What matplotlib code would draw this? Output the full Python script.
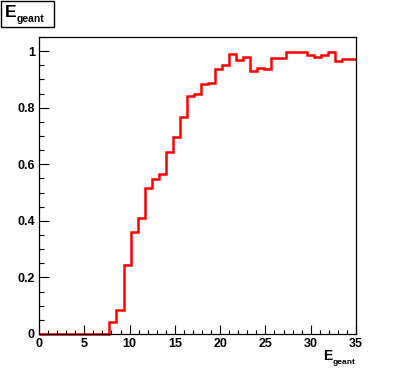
import matplotlib
matplotlib.use("Agg")
import matplotlib.pyplot as plt
import numpy as np
from matplotlib.patches import Rectangle
from matplotlib.ticker import MultipleLocator, FuncFormatter

# 45 bins between 0 and 35
x_min, x_max, n_bins = 0.0, 35.0, 45
efficiency = [
    0, 0, 0, 0, 0, 0, 0, 0, 0, 0,
    0.044, 0.084, 0.243, 0.359, 0.411, 0.516, 0.547, 0.566,
    0.642, 0.695, 0.768, 0.842, 0.847, 0.884, 0.887, 0.938,
    0.952, 0.991, 0.970, 0.980, 0.930, 0.940, 0.938, 0.977,
    0.977, 0.998, 0.998, 0.998, 0.985, 0.980, 0.985, 0.998,
    0.966, 0.973, 0.973,
]
x_ticks = [0, 5, 10, 15, 20, 25, 30, 35]
y_ticks = [0, 0.2, 0.4, 0.6, 0.8, 1.0]

plt.rcParams["font.family"] = ["Liberation Sans", "DejaVu Sans"]
plt.rcParams["font.weight"] = "bold"

W, H = 396, 372
fig = plt.figure(figsize=(W / 100, H / 100), dpi=100)
ax = fig.add_axes([39 / W, (H - 334) / H, 317 / W, 297 / H])

edges = np.linspace(x_min, x_max, n_bins + 1)
ax.stairs(efficiency, edges, color="red", linewidth=1.8, baseline=None, clip_on=False)

ax.set_xlim(x_min, x_max)
ax.set_ylim(0, 1.05)
ax.set_xticks(x_ticks)
ax.set_yticks(y_ticks)
ax.xaxis.set_minor_locator(MultipleLocator(1))
ax.yaxis.set_minor_locator(MultipleLocator(0.05))
ax.yaxis.set_major_formatter(FuncFormatter(lambda v, p: f"{v:g}"))
ax.tick_params(axis="both", which="both", direction="in", top=False, right=False,
               labelsize=9, width=0.8)
ax.tick_params(axis="x", which="major", length=6.5, pad=3)
ax.tick_params(axis="x", which="minor", length=3.2)
ax.tick_params(axis="y", which="major", length=7, pad=3)
ax.tick_params(axis="y", which="minor", length=3.6)
for lab in ax.get_xticklabels() + ax.get_yticklabels():
    lab.set_fontweight("bold")
for s in ax.spines.values():
    s.set_linewidth(0.9)

# x axis title, bottom right
fig.text(323 / W, 1 - 360 / H, "E", fontsize=10, fontweight="bold", ha="left", va="baseline")
fig.text(333 / W, 1 - 364 / H, "geant", fontsize=6, fontweight="bold", ha="left", va="baseline")

# title box, top left
fig.patches.append(Rectangle((1 / W, 1 - 27 / H), 53 / W, 26 / H, transform=fig.transFigure,
                             facecolor="white", edgecolor="black", linewidth=1.0))
fig.patches.append(Rectangle((2 / W, 1 - 28 / H), 53 / W, 1.5 / H, transform=fig.transFigure,
                             facecolor="black", edgecolor="none"))
fig.patches.append(Rectangle((53.5 / W, 1 - 28 / H), 1.5 / W, 26 / H, transform=fig.transFigure,
                             facecolor="black", edgecolor="none"))
fig.text(5 / W, 1 - 17 / H, "E", fontsize=12.5, fontweight="bold", ha="left", va="baseline")
fig.text(17 / W, 1 - 22 / H, "geant", fontsize=7.5, fontweight="bold", ha="left", va="baseline")

fig.savefig("out.png", dpi=100)
